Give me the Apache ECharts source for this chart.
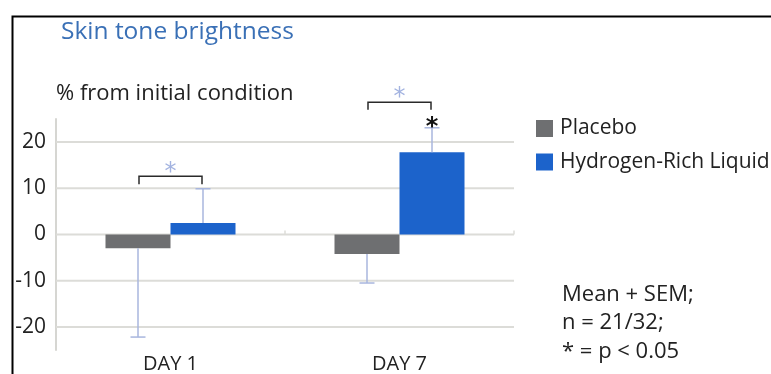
<!DOCTYPE html>
<html>
<head>
<meta charset="utf-8">
<script src="https://cdn.jsdelivr.net/npm/echarts@6/dist/echarts.min.js"></script>
<style>
html,body{margin:0;padding:0;background:#fff;}
#c{width:771px;height:374px;}
</style>
</head>
<body>
<div id="c"></div>
<script>
// ---- data ----
const categories = ['DAY 1', 'DAY 7'];
const seriesNames = ['Placebo', 'Hydrogen-Rich Liquid'];
const placeboMean = [-3, -4.2];
const liquidMean = [2.5, 17.8];
const placeboSEM = [19.2, 6.3];   // error bar drawn downward
const liquidSEM = [7.4, 5.3];     // error bar drawn upward
const yTicks = [-20, -10, 0, 10, 20];
// significance brackets: [categoryIndex, topValue, legValue]
const brackets = [[0, 12.6, 10.9], [1, 28.6, 27.0]];
// stars: [categoryIndex, value, side(-1 placebo,0 centre,1 liquid), kind(0 light,1 black)]
const stars = [[0, 15.9, 0, 0], [1, 32.3, 0, 0], [1, 25.7, 1, 1]];
const notes = ['Mean + SEM;', 'n = 21/32;', '* = p < 0.05'];

const FONT = 'Open Sans';
const BAR_W = 65;
const ERR_COLOR = '#a8b6de';
const GRID_COLOR = '#dcdcd8';

const chart = echarts.init(document.getElementById('c'));

function errorSeries(means, sems, side, dir) {
  return {
    type: 'custom',
    z: 5,
    silent: true,
    data: means.map((m, i) => [i, m, m + dir * sems[i]]),
    renderItem: function (params, api) {
      const off = side * BAR_W / 2;
      const p1 = api.coord([api.value(0), api.value(1)]);
      const p2 = api.coord([api.value(0), api.value(2)]);
      const x = p1[0] + off;
      const style = { stroke: ERR_COLOR, lineWidth: 1.5 };
      return {
        type: 'group',
        children: [
          { type: 'line', shape: { x1: x, y1: p1[1], x2: x, y2: p2[1] }, style: style },
          { type: 'line', shape: { x1: x - 7.5, y1: p2[1], x2: x + 7.5, y2: p2[1] }, style: style }
        ]
      };
    }
  };
}

const option = {
  animation: false,
  backgroundColor: '#fff',
  title: {
    text: 'Skin tone brightness',
    left: 56, top: 15,
    textStyle: { fontFamily: FONT, fontSize: 24.5, fontWeight: 'normal', color: '#3a70b6' }
  },
  legend: {
    orient: 'vertical',
    left: 531, top: 113,
    icon: 'rect',
    itemWidth: 17, itemHeight: 17, itemGap: 12.5,
    textStyle: { fontFamily: FONT, fontSize: 21, color: '#222', padding: [0, 0, 0, 2] },
    data: seriesNames
  },
  grid: { left: 56, right: 257, top: 119, bottom: 24, containLabel: false },
  xAxis: {
    type: 'category',
    data: categories,
    axisLine: { show: false },
    axisTick: { show: false },
    axisLabel: { fontFamily: FONT, fontSize: 20, color: '#222', margin: 4 }
  },
  yAxis: {
    type: 'value',
    min: -25, max: 25, interval: 5,
    axisLine: { show: true, lineStyle: { color: '#d6d6d2', width: 2 } },
    axisTick: { show: false },
    splitLine: { show: false },
    axisLabel: {
      fontFamily: FONT, fontSize: 21, color: '#222', margin: 10,
      formatter: function (v) { return yTicks.indexOf(v) >= 0 ? String(v) : ''; }
    }
  },
  graphic: [
    { type: 'rect', left: 10, top: 14, shape: { width: 790, height: 400 },
      style: { fill: 'none', stroke: '#000', lineWidth: 2 }, silent: true, z: 100 },
    { type: 'text', left: 56, top: 83,
      style: { text: '% from initial condition', fontFamily: FONT, fontSize: 22, fill: '#222' } },
    { type: 'text', left: 562, top: 280,
      style: { text: notes.join('\n'), fontFamily: FONT, fontSize: 22, lineHeight: 28.5, fill: '#222' } }
  ],
  series: [
    {
      // horizontal grid lines (through the value axis scale)
      type: 'custom', z: 1, silent: true,
      data: yTicks.map(v => [0, v]),
      renderItem: function (params, api) {
        const cs = params.coordSys;
        const y = api.coord([0, api.value(1)])[1];
        const children = [
          { type: 'line', shape: { x1: cs.x, y1: y, x2: cs.x + cs.width, y2: y },
            style: { stroke: GRID_COLOR, lineWidth: 2 } }
        ];
        if (api.value(1) === 0) {
          [cs.x + cs.width / 2, cs.x + cs.width].forEach(function (tx) {
            children.push({ type: 'line', shape: { x1: tx, y1: y, x2: tx, y2: y - 4 },
              style: { stroke: GRID_COLOR, lineWidth: 1.5 } });
          });
        }
        return { type: 'group', children: children };
      }
    },
    {
      name: seriesNames[0], type: 'bar', data: placeboMean, barWidth: BAR_W, barGap: '0%', z: 3,
      itemStyle: { color: '#6e6f71' }
    },
    {
      name: seriesNames[1], type: 'bar', data: liquidMean, barWidth: BAR_W, barGap: '0%', z: 3,
      itemStyle: { color: '#1c63cb' }
    },
    errorSeries(placeboMean, placeboSEM, -1, -1),
    errorSeries(liquidMean, liquidSEM, 1, 1),
    {
      type: 'custom', z: 6, silent: true,
      data: brackets,
      renderItem: function (params, api) {
        const top = api.coord([api.value(0), api.value(1)]);
        const leg = api.coord([api.value(0), api.value(2)]);
        const xl = top[0] - BAR_W / 2 + 1, xr = top[0] + BAR_W / 2 - 1;
        return {
          type: 'polyline',
          shape: { points: [[xl, leg[1]], [xl, top[1]], [xr, top[1]], [xr, leg[1]]] },
          style: { stroke: '#2a2a2a', lineWidth: 1.5, fill: 'none' }
        };
      }
    },
    {
      type: 'custom', z: 7, silent: true,
      data: stars,
      renderItem: function (params, api) {
        const p = api.coord([api.value(0), api.value(1)]);
        const black = api.value(3) === 1;
        return {
          type: 'text',
          x: p[0] + api.value(2) * BAR_W / 2,
          y: p[1],
          style: {
            text: '*',
            fontFamily: 'DejaVu Sans',
            fontSize: 24,
            fontWeight: black ? 'bold' : 'normal',
            fill: black ? '#111' : '#a3b3e0',
            align: 'center',
            verticalAlign: 'top'
          }
        };
      }
    }
  ]
};
chart.setOption(option);
</script>
</body>
</html>
